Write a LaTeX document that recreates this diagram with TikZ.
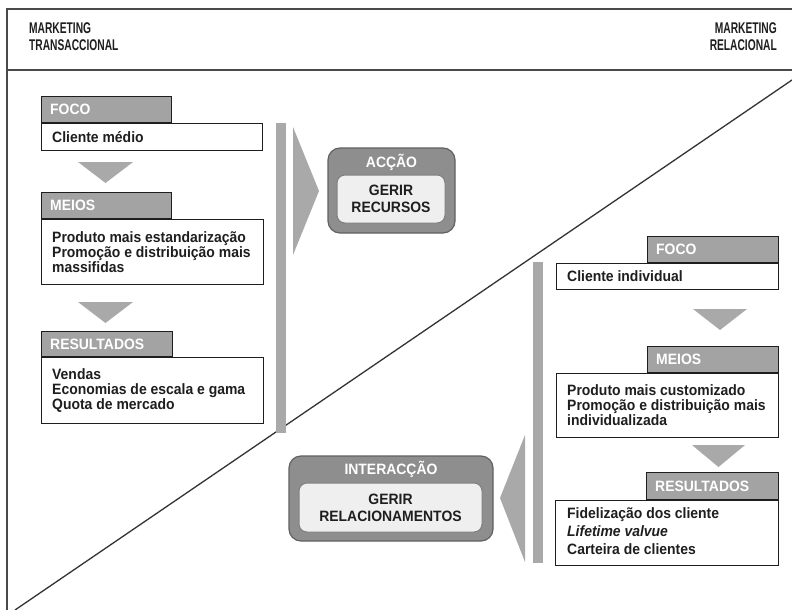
\documentclass[tikz,border=0pt]{standalone}
\usepackage{fontspec}
\setmainfont{Liberation Sans}
\newfontfamily\bodyfont[FakeStretch=0.93]{Liberation Sans Bold}
\newfontfamily\bodyitfont[FakeStretch=0.93]{Liberation Sans Bold Italic}
\newfontfamily\hdrfont[FakeStretch=0.66]{Liberation Sans Bold}
\definecolor{tabgray}{HTML}{A3A3A3}
\definecolor{bargray}{HTML}{A9A9A9}
\definecolor{outgray}{HTML}{8E8E8E}
\definecolor{ingray}{HTML}{EFEFEF}
\definecolor{ink}{HTML}{1E1E1E}
\definecolor{framec}{HTML}{4A4A4A}
\tikzset{
  bodybox/.style={draw=ink, line width=1.1pt, fill=white, inner sep=0pt, anchor=north west},
  bodytext/.style={inner sep=0pt, anchor=west, align=left, font=\fontsize{15}{15}\bodyfont, text=ink},
  tabbox/.style={draw=ink, line width=1.1pt, fill=tabgray, inner sep=0pt},
  tabtext/.style={inner sep=0pt, anchor=west, font=\fontsize{15}{15}\bodyfont, text=white},
  flowtri/.style={fill=bargray, draw=none},
  vbar/.style={fill=bargray, draw=none},
  outerbox/.style={draw=black!62, line width=1.2pt, fill=outgray, rounded corners=12pt, inner sep=0pt},
  innerbox/.style={draw=black!50, line width=1pt, fill=ingray, rounded corners=8pt, inner sep=0pt,
    align=center, font=\fontsize{15}{17}\bodyfont, text=ink},
  boxlabel/.style={inner sep=0pt, font=\fontsize{15}{17}\bodyfont, text=white},
  hdr/.style={inner sep=0pt, font=\fontsize{15.5}{17}\hdrfont, text=ink},
  frameline/.style={draw=framec, line width=1.4pt},
}
\begin{document}
\begin{tikzpicture}[x=1pt,y=-1pt]
\useasboundingbox (0,0) rectangle (792,610);
\fill[white] (0,0) rectangle (792,610);

% frame and diagonal
\draw[frameline] (792,9) -- (7,9) -- (7,610);
\draw[frameline] (7,70) -- (792,70);
\draw[draw=black!80, line width=1.3pt] (15,610) -- (792,80);

% headers
\node[hdr, anchor=north west, align=left] (htl) at (29,22) {MARKETING\\TRANSACCIONAL};
\node[hdr, anchor=north east, align=right] (htr) at (777,22) {MARKETING\\RELACIONAL};

% ---------- left column ----------
\node[bodybox, minimum width=221pt, minimum height=27pt] (lfoco) at (41,123) {};
\node[bodytext] (lfocox) at ([xshift=11pt]lfoco.west) {Cliente médio};
\node[tabbox, anchor=south west, minimum width=130pt, minimum height=26pt] (lfocot) at (lfoco.north west) {};
\node[tabtext] (lfocotx) at ([xshift=9pt]lfocot.west) {FOCO};
\fill[flowtri] (78,162) -- (133,162) -- (105.5,183) -- cycle;

\node[bodybox, minimum width=222pt, minimum height=65pt] (lmeios) at (41,219) {};
\node[bodytext] (lmeiosx) at ([xshift=11pt]lmeios.west)
  {Produto mais estandarização\\Promoção e distribuição mais\\massifidas};
\node[tabbox, anchor=south west, minimum width=130pt, minimum height=26pt] (lmeiost) at (lmeios.north west) {};
\node[tabtext] (lmeiostx) at ([xshift=9pt]lmeiost.west) {MEIOS};
\fill[flowtri] (78,302) -- (133,302) -- (105.5,323) -- cycle;

\node[bodybox, minimum width=222pt, minimum height=66pt] (lres) at (41,357) {};
\node[bodytext] (lresx) at ([xshift=11pt]lres.west)
  {Vendas\\Economias de escala e gama\\Quota de mercado};
\node[tabbox, anchor=south west, minimum width=131pt, minimum height=25pt] (lrest) at (lres.north west) {};
\node[tabtext] (lrestx) at ([xshift=9pt]lrest.west) {RESULTADOS};

\fill[vbar] (276,123) rectangle (286,433);
\fill[flowtri] (293,127) -- (319,191) -- (293,255) -- cycle;

\node[outerbox, minimum width=127pt, minimum height=85pt] (accao) at (391.5,190.5) {};
\node[boxlabel] (accaol) at (391.5,162) {ACÇÃO};
\node[innerbox, minimum width=108pt, minimum height=48pt] (gerirrec) at (391,199) {GERIR\\RECURSOS};

% ---------- right column ----------
\node[bodybox, minimum width=222pt, minimum height=26pt] (rfoco) at (556,263) {};
\node[bodytext] (rfocox) at ([xshift=11pt]rfoco.west) {Cliente individual};
\node[tabbox, anchor=south east, minimum width=131pt, minimum height=26pt] (rfocot) at (rfoco.north east) {};
\node[tabtext] (rfocotx) at ([xshift=9pt]rfocot.west) {FOCO};
\fill[flowtri] (693,309) -- (747,309) -- (720,330) -- cycle;

\node[bodybox, minimum width=222pt, minimum height=64pt] (rmeios) at (556,373) {};
\node[bodytext] (rmeiosx) at ([xshift=11pt]rmeios.west)
  {Produto mais customizado\\Promoção e distribuição mais\\individualizada};
\node[tabbox, anchor=south east, minimum width=131pt, minimum height=26pt] (rmeiost) at (rmeios.north east) {};
\node[tabtext] (rmeiostx) at ([xshift=9pt]rmeiost.west) {MEIOS};
\fill[flowtri] (692,445) -- (745,445) -- (718.5,467) -- cycle;

\node[bodybox, minimum width=223pt, minimum height=65pt] (rres) at (555,500) {};
\node[bodytext, font=\fontsize{15}{18}\bodyfont] (rresx) at ([xshift=12pt,yshift=1.5pt]rres.west)
  {Fidelização dos cliente\\{\bodyitfont Lifetime valvue}\\Carteira de clientes};
\node[tabbox, anchor=south east, minimum width=132pt, minimum height=27pt] (rrest) at (rres.north east) {};
\node[tabtext] (rrestx) at ([xshift=9pt]rrest.west) {RESULTADOS};

\fill[vbar] (533,262) rectangle (543,563);
\fill[flowtri] (525,435) -- (500,498) -- (525,562) -- cycle;

\node[outerbox, minimum width=204pt, minimum height=85pt] (inter) at (391,498.5) {};
\node[boxlabel] (interl) at (391,469) {INTERACÇÃO};
\node[innerbox, minimum width=183pt, minimum height=49pt] (gerirrel) at (390.5,507.5) {GERIR\\RELACIONAMENTOS};
\end{tikzpicture}
\end{document}
